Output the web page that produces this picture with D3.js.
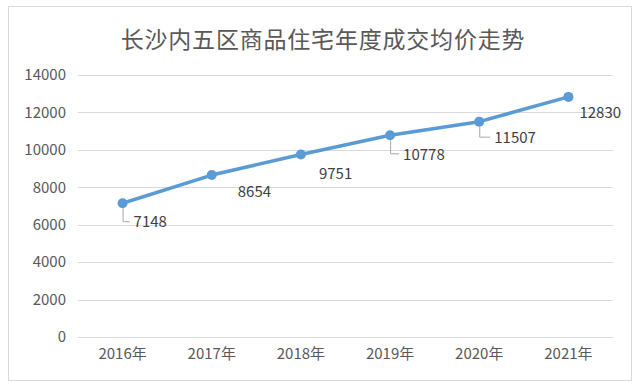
<!DOCTYPE html>
<html>
<head>
<meta charset="utf-8">
<script src="https://cdn.jsdelivr.net/npm/d3@7"></script>
<style>
  body { margin: 0; background: #fff; }
  text { font-family: "Noto Sans CJK SC", "Noto Sans", sans-serif; }
</style>
</head>
<body>
<script>
// data
var years = ["2016年", "2017年", "2018年", "2019年", "2020年", "2021年"];
var prices = [7148, 8654, 9751, 10778, 11507, 12830];
var yTicks = [0, 2000, 4000, 6000, 8000, 10000, 12000, 14000];
var title = "长沙内五区商品住宅年度成交均价走势";

// label placement: [dx, dy, leader?]
var labelPos = [[11, 19, true], [26, 17, false], [18, 19, false],
                [13, 19, true], [15, 16, true], [11, 16, false]];

var width = 640, height = 388;
var margin = {top: 75, right: 27, bottom: 51, left: 78};

var svg = d3.select("body").append("svg")
            .attr("width", width)
            .attr("height", height);

svg.append("rect")
   .attr("x", 8.5).attr("y", 6.5)
   .attr("width", 623).attr("height", 374)
   .attr("fill", "#fff")
   .attr("stroke", "#d9d9d9");

svg.append("text")
   .attr("x", 323).attr("y", 48)
   .attr("text-anchor", "middle")
   .attr("font-size", 23)
   .attr("letter-spacing", 0.8)
   .attr("fill", "#595959")
   .text(title);

var x = d3.scaleBand()
          .domain(years)
          .range([margin.left, width - margin.right]);

var y = d3.scaleLinear()
          .domain([0, 14000])
          .range([height - margin.bottom, margin.top]);

// grid lines
svg.append("g").selectAll("line")
   .data(yTicks)
   .enter()
   .append("line")
   .attr("x1", margin.left)
   .attr("x2", width - margin.right)
   .attr("y1", function (d) { return Math.round(y(d)) + 0.5; })
   .attr("y2", function (d) { return Math.round(y(d)) + 0.5; })
   .attr("stroke", "#d9d9d9")
   .attr("stroke-width", 1);

// y axis labels
var yAxis = svg.append("g")
   .attr("transform", "translate(" + margin.left + ",0)")
   .call(d3.axisLeft(y).tickValues(yTicks).tickSize(0).tickPadding(12).tickFormat(d3.format("d")));
yAxis.select(".domain").remove();
yAxis.selectAll("text")
   .attr("font-size", 15)
   .attr("fill", "#595959")
   .style("font-family", "'Noto Sans CJK SC', sans-serif");

// x axis labels
var xAxis = svg.append("g")
   .attr("transform", "translate(0," + (height - margin.bottom) + ")")
   .call(d3.axisBottom(x).tickSize(0).tickPadding(11));
xAxis.select(".domain").remove();
xAxis.selectAll("text")
   .attr("font-size", 15)
   .attr("fill", "#595959")
   .style("font-family", "'Noto Sans CJK SC', sans-serif");

function cx(d, i) { return x(years[i]) + x.bandwidth() / 2; }

var line = d3.line()
   .x(function (d, i) { return cx(d, i); })
   .y(function (d) { return y(d); });

svg.append("path")
   .datum(prices)
   .attr("d", line)
   .attr("fill", "none")
   .attr("stroke", "#5b9bd5")
   .attr("stroke-width", 3.5)
   .attr("stroke-linejoin", "round");

// leader lines
svg.append("g").selectAll("path")
   .data(prices)
   .enter()
   .filter(function (d, i) { return labelPos[i][2]; })
   .append("path")
   .attr("d", function (d) {
     var i = prices.indexOf(d);
     var px = cx(d, i), py = y(d);
     var ly = py + labelPos[i][1];
     return "M" + (px + 0.5) + "," + (py + 5) + "V" + (ly - 0.5) + "H" + (px + labelPos[i][0] - 4);
   })
   .attr("fill", "none")
   .attr("stroke", "#a6a6a6")
   .attr("stroke-width", 1);

svg.append("g").selectAll("circle")
   .data(prices)
   .enter()
   .append("circle")
   .attr("cx", function (d, i) { return cx(d, i); })
   .attr("cy", function (d) { return y(d); })
   .attr("r", 5)
   .style("fill", "#5b9bd5");

svg.append("g").selectAll("text")
   .data(prices)
   .enter()
   .append("text")
   .attr("x", function (d, i) { return cx(d, i) + labelPos[i][0]; })
   .attr("y", function (d, i) { return y(d) + labelPos[i][1]; })
   .attr("dy", "0.35em")
   .attr("font-size", 15)
   .attr("fill", "#404040")
   .text(function (d) { return d; });
</script>
</body>
</html>
